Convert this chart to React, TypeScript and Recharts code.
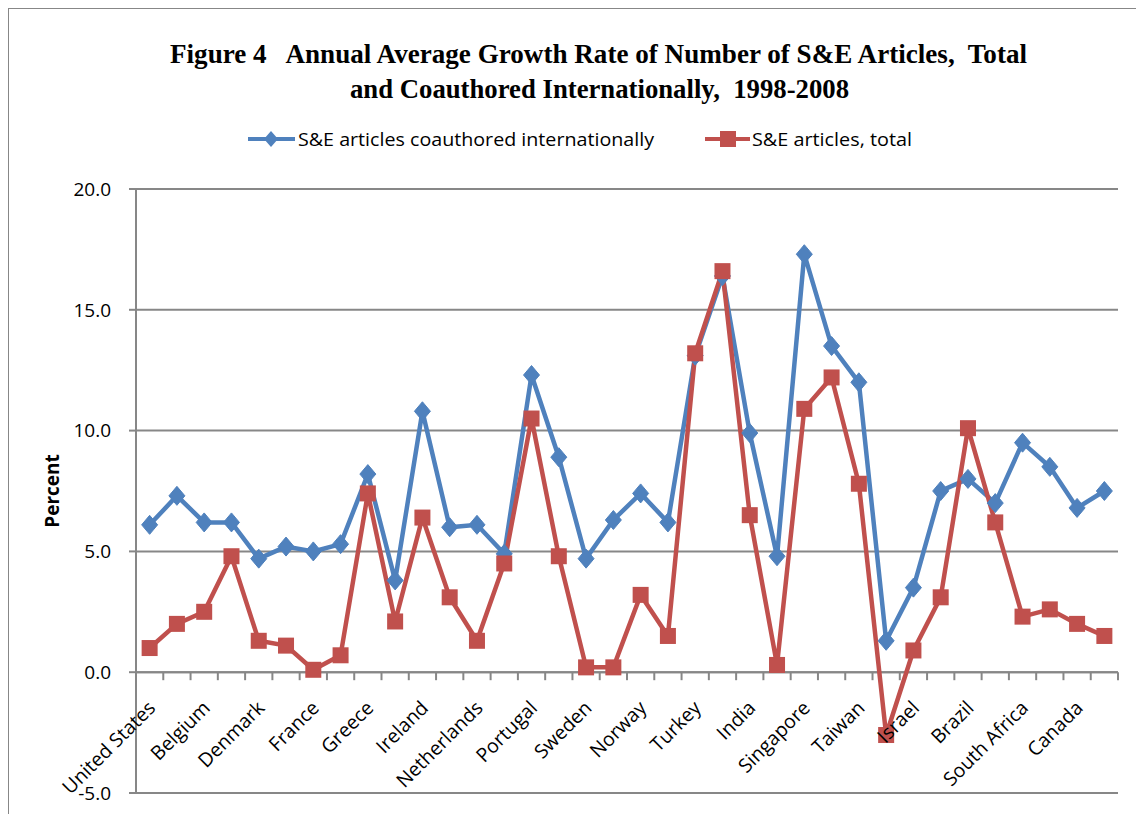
import React from 'react';
import { LineChart, Line, XAxis, YAxis, CartesianGrid, Legend, ReferenceLine } from 'recharts';

// only every other country is labelled on the axis in the original
const COUNTRIES = [
  'United States', 'Austria', 'Belgium', 'Czech Republic', 'Denmark', 'Finland',
  'France', 'Germany', 'Greece', 'Hungary', 'Ireland', 'Italy',
  'Netherlands', 'Poland', 'Portugal', 'Spain', 'Sweden', 'United Kingdom',
  'Norway', 'Switzerland', 'Turkey', 'China', 'India', 'Japan',
  'Singapore', 'South Korea', 'Taiwan', 'Russia', 'Israel', 'Argentina',
  'Brazil', 'Mexico', 'South Africa', 'Australia', 'Canada', 'New Zealand',
];

const COAUTHORED = [
  6.1, 7.3, 6.2, 6.2, 4.7, 5.2, 5.0, 5.3, 8.2, 3.8, 10.8, 6.0,
  6.1, 4.9, 12.3, 8.9, 4.7, 6.3, 7.4, 6.2, 13.1, 16.4, 9.9, 4.8,
  17.3, 13.5, 12.0, 1.3, 3.5, 7.5, 8.0, 7.0, 9.5, 8.5, 6.8, 7.5,
];

const TOTAL = [
  1.0, 2.0, 2.5, 4.8, 1.3, 1.1, 0.1, 0.7, 7.4, 2.1, 6.4, 3.1,
  1.3, 4.5, 10.5, 4.8, 0.2, 0.2, 3.2, 1.5, 13.2, 16.6, 6.5, 0.3,
  10.9, 12.2, 7.8, -2.6, 0.9, 3.1, 10.1, 6.2, 2.3, 2.6, 2.0, 1.5,
];

const Y_TICKS = [-5, 0, 5, 10, 15, 20];

const BLUE = '#4F81BD';
const RED = '#C0504D';
const GRID = '#878787';

const data = COUNTRIES.map((country, i) => ({
  country,
  coauthored: COAUTHORED[i],
  total: TOTAL[i],
}));

const PLOT_H = 604;
const ZERO_OFFSET = (PLOT_H * 5) / 25; // distance from bottom (-5) to the 0 line
const HALF_STEP = 13.63;

const Diamond = (props: any) => {
  const { cx, cy, index } = props;
  if (cx == null || cy == null) return null;
  const rx = 8;
  const ry = 9.5;
  return (
    <path
      key={`d-${index}`}
      d={`M${cx},${cy - ry}L${cx + rx},${cy}L${cx},${cy + ry}L${cx - rx},${cy}Z`}
      fill={BLUE}
      stroke={BLUE}
    />
  );
};

const Square = (props: any) => {
  const { cx, cy, index } = props;
  if (cx == null || cy == null) return null;
  const s = 16;
  return <rect key={`s-${index}`} x={cx - s / 2} y={cy - s / 2} width={s} height={s} fill={RED} />;
};

const CountryTick = (props: any) => {
  const { x, y, payload, index } = props;
  const zeroY = y - ZERO_OFFSET;
  const ax = x + 7;
  const ay = zeroY + 37;
  return (
    <g>
      <line x1={x - HALF_STEP} y1={zeroY} x2={x - HALF_STEP} y2={zeroY + 8} stroke={GRID} strokeWidth={2} />
      {index === COUNTRIES.length - 1 && (
        <line x1={x + HALF_STEP} y1={zeroY} x2={x + HALF_STEP} y2={zeroY + 8} stroke={GRID} strokeWidth={2} />
      )}
      {index % 2 === 0 && (
        <text
          x={ax}
          y={ay}
          textAnchor="end"
          fontSize={19.5}
          fontFamily="Open Sans"
          fill="#000"
          transform={`rotate(-45, ${ax}, ${ay})`}
        >
          {payload.value}
        </text>
      )}
    </g>
  );
};

const renderLegend = () => (
  <div style={{ width: 1135, height: 70 }}>
    <svg width={1135} height={70}>
      <line x1={239} y1={20} x2={286} y2={20} stroke={BLUE} strokeWidth={4} />
      <path d="M262,12L269,20L262,28L255,20Z" fill={BLUE} />
      <text x={289} y={27} fontSize={19} fontFamily="Open Sans" textLength={356} lengthAdjust="spacingAndGlyphs">
        S&amp;E articles coauthored internationally
      </text>
      <line x1={696} y1={20} x2={741} y2={20} stroke={RED} strokeWidth={4} />
      <rect x={711} y={12} width={16} height={16} fill={RED} />
      <text x={743} y={27} fontSize={19} fontFamily="Open Sans" textLength={160} lengthAdjust="spacingAndGlyphs">
        S&amp;E articles, total
      </text>
    </svg>
  </div>
);

const PercentLabel = (props: any) => {
  const vb = props.viewBox || {};
  const cy = vb.y + vb.height / 2;
  return (
    <text
      x={50}
      y={cy}
      textAnchor="middle"
      fontSize={19}
      fontWeight="bold"
      fontFamily="Open Sans"
      fill="#000"
      transform={`rotate(-90, 50, ${cy})`}
    >
      Percent
    </text>
  );
};

export default function App() {
  return (
    <div
      style={{
        position: 'relative',
        width: 1136,
        height: 806,
        borderLeft: `1px solid ${GRID}`,
        borderTop: `1px solid ${GRID}`,
        background: '#fff',
      }}
    >
      <style>{'html, body { overflow: hidden; }'}</style>
      <svg width={1135} height={110} style={{ position: 'absolute', left: 0, top: 0 }}>
        <text
          x={161}
          y={54}
          fontSize={28}
          fontWeight="bold"
          fontFamily="Liberation Serif"
          textLength={857}
          lengthAdjust="spacingAndGlyphs"
          style={{ whiteSpace: 'pre' }}
        >
          {'Figure 4   Annual Average Growth Rate of Number of S&E Articles,  Total'}
        </text>
        <text
          x={341}
          y={89}
          fontSize={28}
          fontWeight="bold"
          fontFamily="Liberation Serif"
          textLength={499}
          lengthAdjust="spacingAndGlyphs"
          style={{ whiteSpace: 'pre' }}
        >
          {'and Coauthored Internationally,  1998-2008'}
        </text>
      </svg>
      <LineChart
        width={1135}
        height={805}
        data={data}
        margin={{ top: 110, right: 26, left: 57, bottom: 20 }}
      >
        <CartesianGrid horizontal vertical={false} stroke={GRID} strokeWidth={2} />
        <Legend verticalAlign="top" content={renderLegend} wrapperStyle={{ left: 0, width: 1135 }} />
        <XAxis
          dataKey="country"
          height={1}
          interval={0}
          padding={{ left: HALF_STEP, right: HALF_STEP }}
          axisLine={false}
          tickLine={false}
          tickSize={0}
          tickMargin={0}
          tick={<CountryTick />}
        />
        <YAxis
          width={70}
          domain={[-5, 20]}
          ticks={Y_TICKS}
          tickFormatter={(v: number) => v.toFixed(1)}
          axisLine={{ stroke: GRID, strokeWidth: 2 }}
          tickLine={{ stroke: GRID, strokeWidth: 2 }}
          tickSize={7}
          tickMargin={18}
          tick={{ fontSize: 19, fontFamily: 'Open Sans', fill: '#000' }}
          label={<PercentLabel />}
        />
        <ReferenceLine y={0} stroke={GRID} strokeWidth={2} />
        <Line
          type="linear"
          dataKey="coauthored"
          stroke={BLUE}
          strokeWidth={4.5}
          dot={Diamond}
          activeDot={false}
          isAnimationActive={false}
        />
        <Line
          type="linear"
          dataKey="total"
          stroke={RED}
          strokeWidth={4.5}
          dot={Square}
          activeDot={false}
          isAnimationActive={false}
        />
      </LineChart>
    </div>
  );
}
